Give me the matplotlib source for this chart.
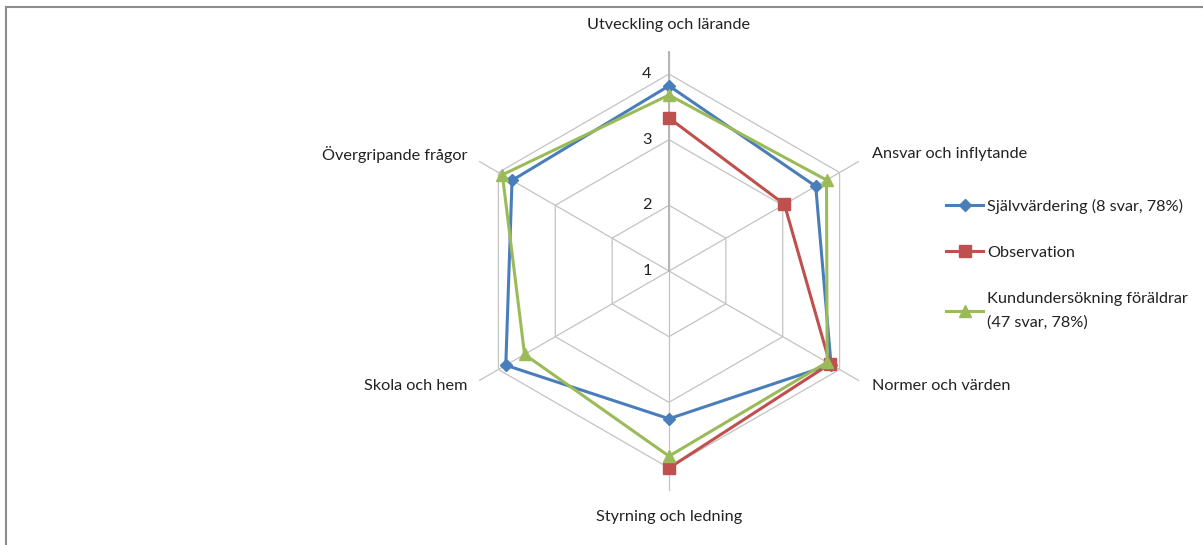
import numpy as np
import matplotlib.pyplot as plt
from matplotlib.lines import Line2D
from matplotlib.patches import Rectangle

plt.rcParams['font.family'] = ['Lato', 'DejaVu Sans']

categories = ["Utveckling och lärande", "Ansvar och inflytande", "Normer och värden",
              "Styrning och ledning", "Skola och hem", "Övergripande frågor"]
sjalv = [3.82, 3.58, 3.85, 3.25, 3.87, 3.76]
observation = [3.33, 3.03, 3.83, 4.0, np.nan, np.nan]
kund = [3.68, 3.77, 3.78, 3.82, 3.54, 3.93]
series_names = ["Självvärdering (8 svar, 78%)", "Observation",
                "Kundundersökning föräldrar\n(47 svar, 78%)"]
rticks = [1, 2, 3, 4]

W, H = 1203, 545
fig = plt.figure(figsize=(W / 100, H / 100), dpi=100)

# frame around the chart area
fig.patches.append(Rectangle((6 / W, -0.05), 1.2, (H - 7) / H + 0.05, transform=fig.transFigure,
                             fill=False, edgecolor='#8c8c8c', linewidth=1.5))

cx, cy, R = 669, 271, 197
ax = fig.add_axes([(cx - R) / W, (H - cy - R) / H, 2 * R / W, 2 * R / H], projection='polar')
ax.set_theta_zero_location('N')
ax.set_theta_direction(-1)
ax.set_rlim(1, 4)
ax.grid(False)
ax.set_xticks([])
ax.set_yticks([])
ax.spines['polar'].set_visible(False)
ax.patch.set_alpha(0)

n = len(categories)
angles = np.arange(n) * 2 * np.pi / n
closed = np.append(angles, angles[0])

grid_col = '#c3c3c3'
for r in rticks[1:]:
    ax.plot(closed, [r] * (n + 1), color=grid_col, lw=0.9, zorder=1)
for a in angles:
    ax.plot([a, a], [rticks[0], rticks[-1] + 0.33], color=grid_col, lw=0.9, zorder=1, clip_on=False)
ax.plot([0, 0], [rticks[0], rticks[-1] + 0.33], color='#b5b5b5', lw=1.4, zorder=1, clip_on=False)

for r in rticks:
    ax.annotate(str(r), xy=(0, r), xytext=(-22, 0), textcoords='offset pixels',
                ha='center', va='center', fontsize=11.7, color='#222222')

offsets = [(0, 49, 'center'), (32, 18, 'left'), (32, -17, 'left'),
           (0, -49, 'center'), (-31, -17, 'right'), (-31, 18, 'right')]
for a, lab, (dx, dy, ha) in zip(angles, categories, offsets):
    ax.annotate(lab, xy=(a, 4), xytext=(dx, dy), textcoords='offset pixels',
                ha=ha, va='center', fontsize=11.7, color='#222222', annotation_clip=False)

colors = ['#4a7ebb', '#c0504d', '#9bbb59']
markers = ['D', 's', '^']
sizes = [6, 8.5, 8]
handles = []
for vals, col, m, ms, name in zip([sjalv, observation, kund], colors, markers, sizes, series_names):
    v = np.append(vals, vals[0])
    ax.plot(closed, v, color=col, lw=2.2, marker=m, markersize=ms, markevery=list(range(n)),
            zorder=3, clip_on=False)
    handles.append(Line2D([0], [0], color=col, lw=2.2, marker=m, markersize=ms, label=name))

leg = fig.legend(handles=handles, loc='upper left', bbox_to_anchor=(946 / W, (H - 199) / H),
                 frameon=False, fontsize=11.7, handlelength=2.3, handletextpad=0.25,
                 labelspacing=1.95, borderpad=0, borderaxespad=0)
for t in leg.get_texts():
    t.set_linespacing(1.85)
    t.set_color('#222222')

fig.savefig('out.png', dpi=100)
